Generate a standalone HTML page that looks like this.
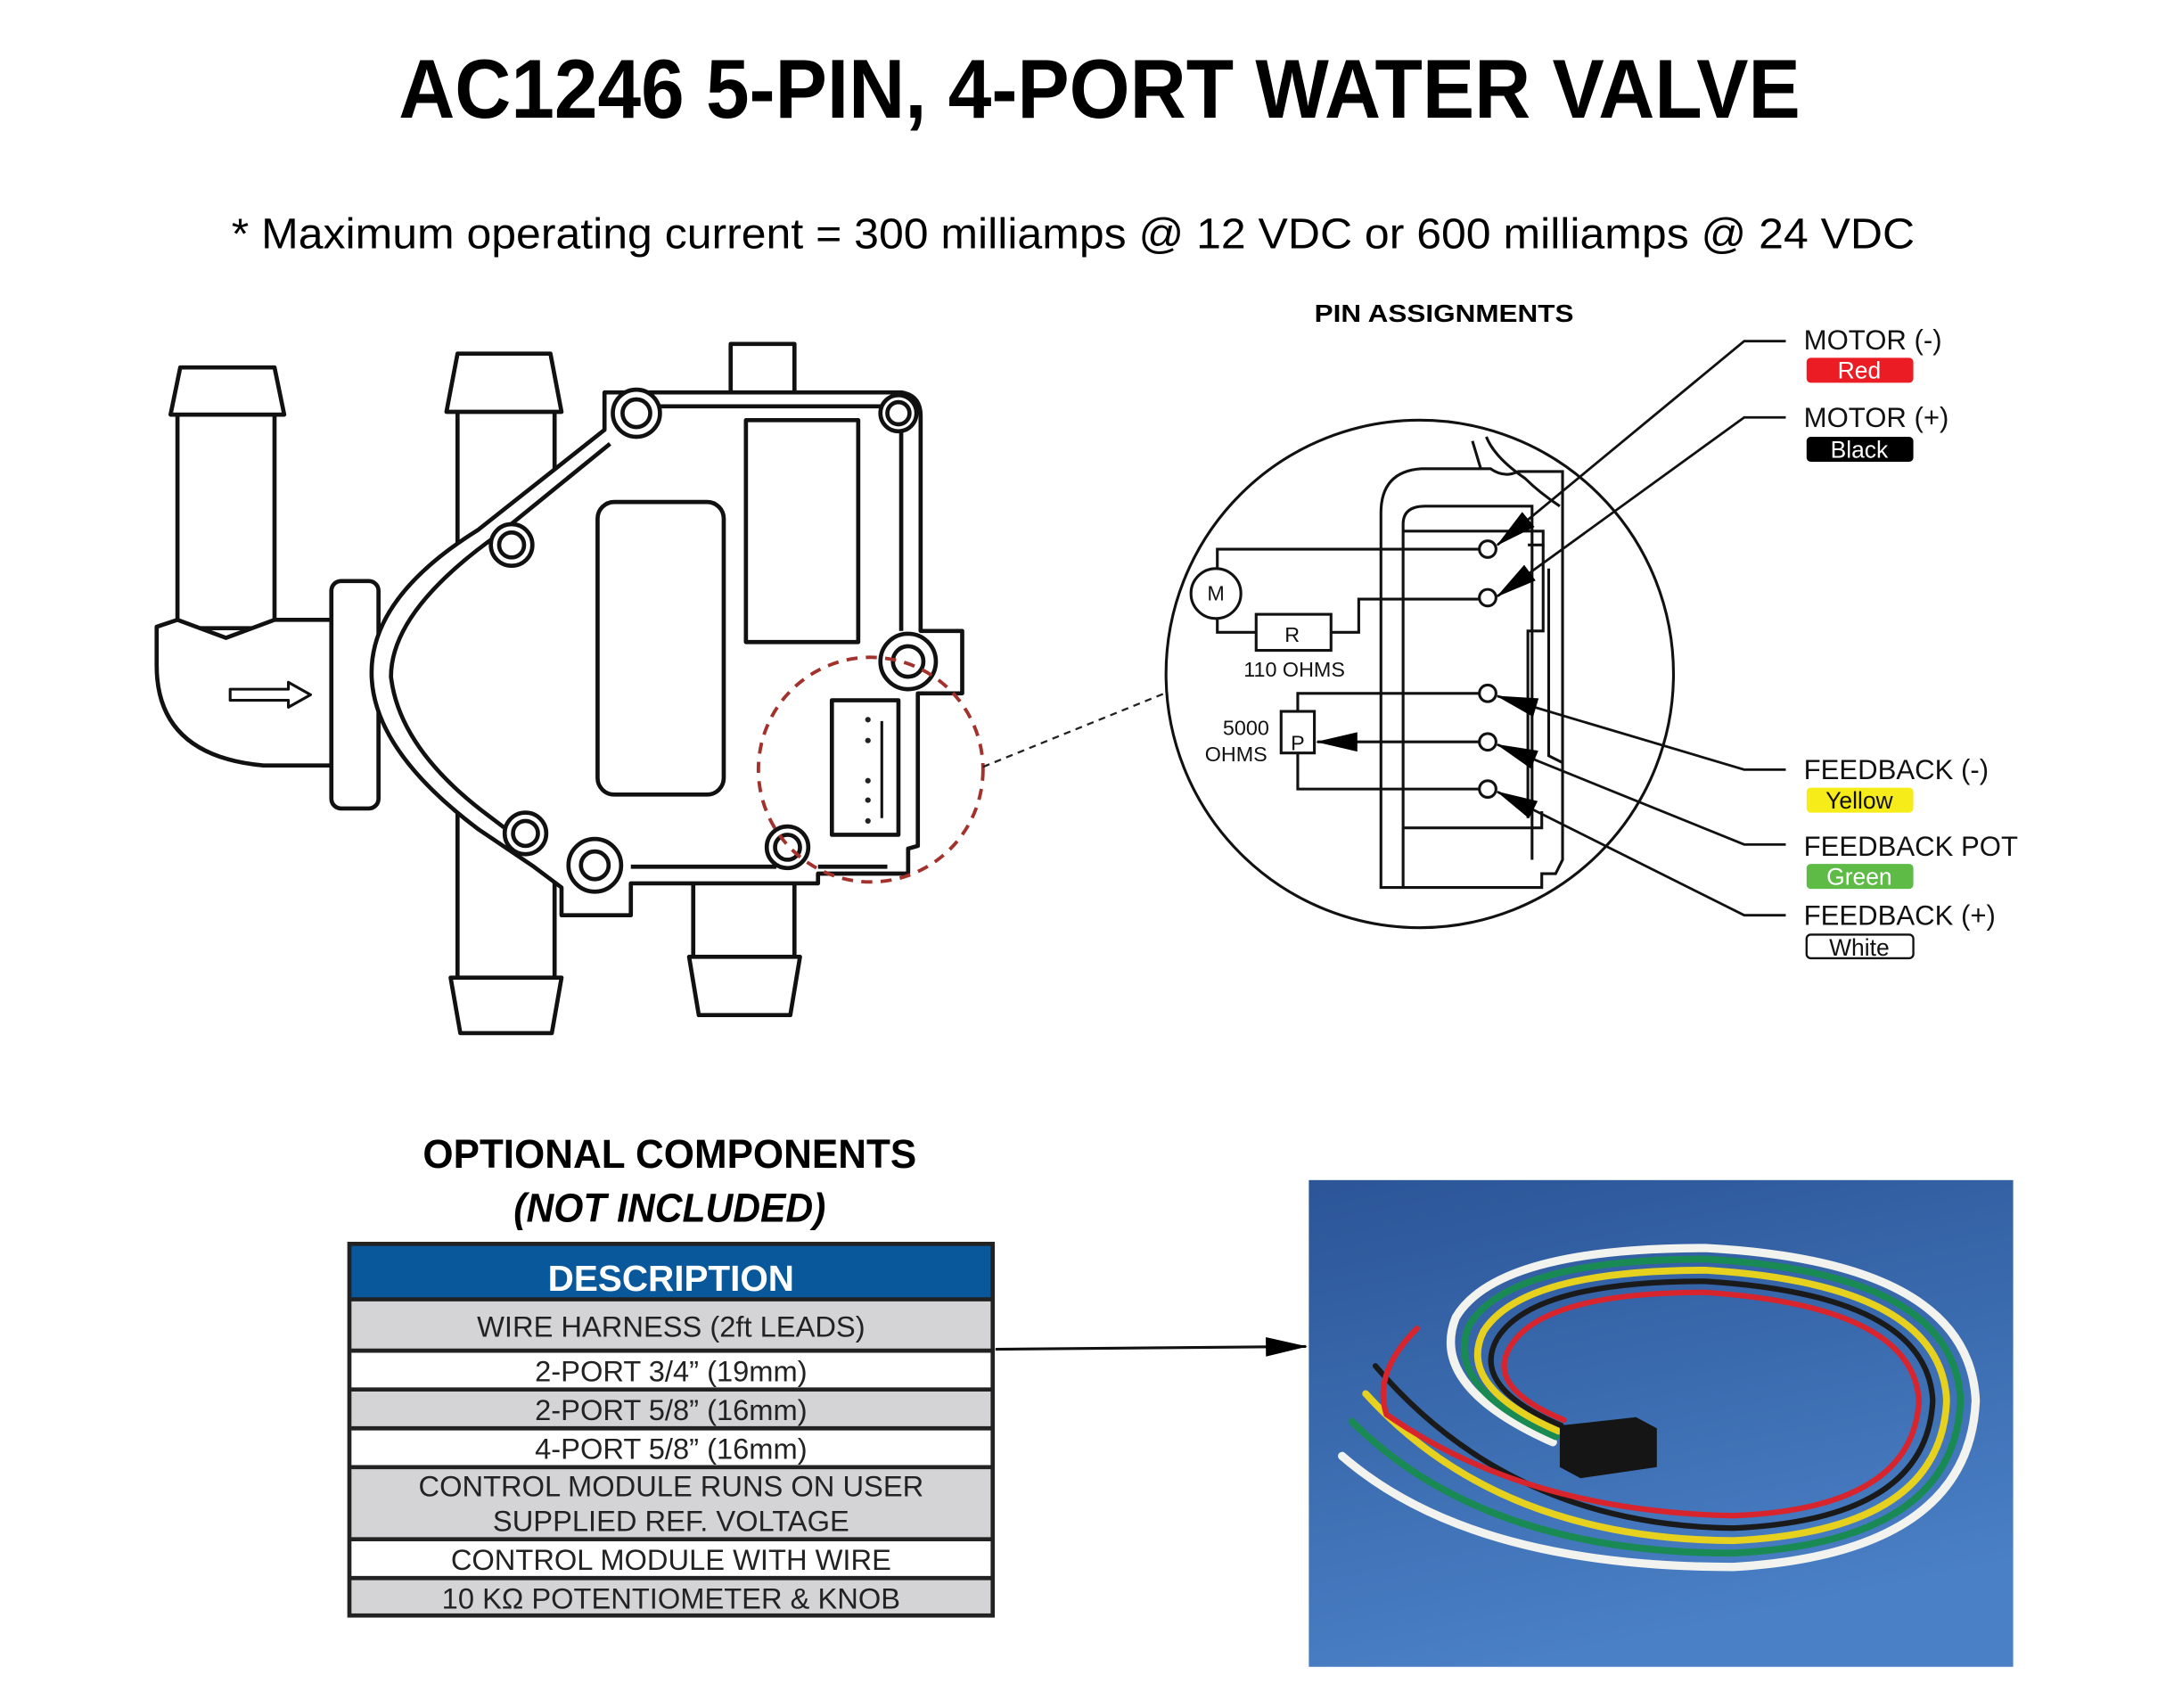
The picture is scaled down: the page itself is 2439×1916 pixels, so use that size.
<!DOCTYPE html>
<html><head><meta charset="utf-8"><style>html,body{margin:0;padding:0;background:#fff}svg{display:block}</style></head><body>
<svg width="2439" height="1916" viewBox="0 0 1568 1231.7" preserveAspectRatio="none" xmlns="http://www.w3.org/2000/svg" font-family="Liberation Sans, sans-serif">
<defs>
<linearGradient id="bg" x1="0" y1="0" x2="0.3" y2="1"><stop offset="0" stop-color="#2b5597"/><stop offset="1" stop-color="#4a80c6"/></linearGradient>
<marker id="bh" markerWidth="30" markerHeight="14" refX="29" refY="7" orient="auto" markerUnits="userSpaceOnUse"><path d="M0,0 L30,7 L0,14 z" fill="#000"/></marker>
</defs>
<text x="793" y="85" text-anchor="middle" font-weight="bold" font-size="60" textLength="1011" lengthAdjust="spacingAndGlyphs">AC1246 5-PIN, 4-PORT WATER VALVE</text>
<text x="167" y="179" font-size="31" textLength="1214" lengthAdjust="spacingAndGlyphs">* Maximum operating current = 300 milliamps @ 12 VDC or 600 milliamps @ 24 VDC</text>
<text x="948" y="232" font-weight="bold" font-size="18" textLength="187" lengthAdjust="spacingAndGlyphs">PIN ASSIGNMENTS</text>

<g fill="#fff" stroke="#111" stroke-width="3" stroke-linejoin="round">
<rect x="330" y="296" width="70" height="412"/>
<path d="M330,255 L397,255 L405,297 L322,297 Z"/>
<path d="M325,705 L405,705 L398,745 L332,745 Z"/>
<rect x="500" y="630" width="73" height="62"/>
<path d="M497,690 L577,690 L570,732 L504,732 Z"/>
<rect x="527" y="248" width="46" height="36"/>
<rect x="128" y="298" width="70" height="155"/>
<path d="M130,265 L198,265 L205,299 L123,299 Z"/>
<path d="M113,452 L128,447 L163,460 L198,447 L242,447 L242,552 L190,552 Q113,545 113,480 Z"/>
<path d="M166,497 L208,497 L208,492 L224,501 L208,510 L208,505 L166,505 Z" stroke-width="2"/>
<rect x="239" y="419" width="34" height="164" rx="7"/>
<path d="M436,310 L436,283 L650,283 Q664,285 664,300 L664,455 L694,455 L694,500 L662,500 L662,610 L655,612 L655,630 L590,630 L590,637 L455,637 L455,660 L405,660 L405,640 L385,625 L345,598 Q268,540 268,485 Q268,430 345,382 Z"/>
<path d="M440,320 L360,385 Q282,440 282,488 Q288,540 352,588 L385,613" fill="none"/>
<path d="M475,293 L635,293 Q650,300 650,310 L650,455" fill="none"/>
<path d="M455,625 L560,625 M590,625 L640,625" fill="none"/>
<rect x="538" y="303" width="81" height="160"/>
<rect x="431" y="362" width="91" height="211" rx="12"/>
<rect x="600" y="505" width="48" height="97"/>
<path d="M636,520 L636,590" fill="none" stroke-width="2"/>
<circle cx="459" cy="298" r="17"/><circle cx="459" cy="298" r="10"/>
<circle cx="648" cy="298" r="13"/><circle cx="648" cy="298" r="8"/>
<circle cx="369" cy="393" r="15"/><circle cx="369" cy="393" r="9"/>
<circle cx="379" cy="601" r="15"/><circle cx="379" cy="601" r="9"/>
<circle cx="429" cy="624" r="19"/><circle cx="429" cy="624" r="10"/>
<circle cx="568" cy="611" r="15"/><circle cx="568" cy="611" r="9"/>
<circle cx="655" cy="477" r="20"/><circle cx="655" cy="477" r="11"/>
</g>
<g fill="#222"><circle cx="626" cy="519" r="2"/><circle cx="626" cy="534" r="2"/><circle cx="626" cy="563" r="2"/><circle cx="626" cy="577" r="2"/><circle cx="626" cy="592" r="2"/></g>
<circle cx="628" cy="555" r="81" fill="none" stroke="#a3322c" stroke-width="2.5" stroke-dasharray="8,6"/>
<line x1="709" y1="553" x2="840" y2="500" stroke="#222" stroke-width="1.5" stroke-dasharray="5,4"/>

<g fill="none" stroke="#111" stroke-width="2">
<ellipse cx="1024" cy="486" rx="183" ry="183"/>
<path d="M996,640 L996,370 Q996,340 1025,338 L1075,338 Q1085,345 1095,340 L1127,340 L1127,620 L1122,630 L1112,630 L1112,640 Z"/>
<path d="M1012,640 L1012,378 Q1012,365 1028,365 L1105,365 L1105,620"/>
<path d="M1012,383 L1113,383 L1113,393 L1102,393 M1012,597 L1112,597 L1112,585"/>
<path d="M1113,393 L1113,455 L1102,455 L1102,590"/>
<path d="M1117,410 L1117,545 L1127,550"/>
<path d="M1062,318 L1068,338 M1072,315 Q1078,330 1100,345 Q1110,355 1125,365"/>
<path d="M1067,396 L878,396 L878,410 M878,446 L878,456 L906,456 M960,456 L980,456 L980,432 L1067,432"/>
<path d="M1067,500 L936,500 L936,513 M936,543 L936,569 L1067,569"/>
<circle cx="877" cy="428" r="18"/>
<rect x="906" y="443" width="54" height="26"/>
<rect x="924" y="513" width="24" height="30"/>
<line x1="1067" y1="535" x2="950" y2="535" marker-end="url(#bh)"/>
</g>
<g fill="#fff" stroke="#111" stroke-width="2">
<circle cx="1073" cy="396" r="6"/><circle cx="1073" cy="431" r="6"/><circle cx="1073" cy="500" r="6"/><circle cx="1073" cy="535" r="6"/><circle cx="1073" cy="569" r="6"/>
</g>
<g font-size="15" fill="#111">
<text x="877" y="433" text-anchor="middle">M</text>
<text x="932" y="463" text-anchor="middle">R</text>
<text x="936" y="541" text-anchor="middle">P</text>
<text x="897" y="488">110 OHMS</text>
<text x="882" y="530">5000</text>
<text x="869" y="549">OHMS</text>
</g>
<g fill="none" stroke="#111" stroke-width="1.8">
<path d="M1288,246 L1258,246 L1080,393" marker-end="url(#bh)"/>
<path d="M1288,301 L1258,301 L1080,430" marker-end="url(#bh)"/>
<path d="M1288,555 L1258,555 L1080,502" marker-end="url(#bh)"/>
<path d="M1288,609 L1258,609 L1080,537" marker-end="url(#bh)"/>
<path d="M1288,660 L1258,660 L1080,571" marker-end="url(#bh)"/>
</g>
<g font-size="20" fill="#111">
<text x="1301" y="252">MOTOR (-)</text>
<text x="1301" y="308">MOTOR (+)</text>
<text x="1301" y="562">FEEDBACK (-)</text>
<text x="1301" y="617">FEEDBACK POT</text>
<text x="1301" y="667">FEEDBACK (+)</text>
</g>
<rect x="1303" y="258" width="77" height="18" rx="3" fill="#ec1c24"/>
<rect x="1303" y="315" width="77" height="18" rx="3" fill="#000"/>
<rect x="1303" y="568" width="77" height="18" rx="3" fill="#f5ec1a"/>
<rect x="1303" y="623" width="77" height="18" rx="3" fill="#5dbb46"/>
<rect x="1303" y="674" width="77" height="17" rx="3" fill="#fff" stroke="#111" stroke-width="1.5"/>
<g font-size="17" text-anchor="middle">
<text x="1341" y="273" fill="#fff">Red</text>
<text x="1341" y="330" fill="#fff">Black</text>
<text x="1341" y="583" fill="#111">Yellow</text>
<text x="1341" y="638" fill="#fff">Green</text>
<text x="1341" y="689" fill="#111">White</text>
</g>

<text x="483" y="842" text-anchor="middle" font-weight="bold" font-size="29" textLength="356" lengthAdjust="spacingAndGlyphs">OPTIONAL COMPONENTS</text>
<text x="483" y="881" text-anchor="middle" font-weight="bold" font-style="italic" font-size="29" textLength="225" lengthAdjust="spacingAndGlyphs">(NOT INCLUDED)</text>
<rect x="252" y="897" width="464" height="40" fill="#08589b"/>
<rect x="252" y="937" width="464" height="37" fill="#d4d4d6"/>
<rect x="252" y="974" width="464" height="28" fill="#fff"/>
<rect x="252" y="1002" width="464" height="28" fill="#d4d4d6"/>
<rect x="252" y="1030" width="464" height="28" fill="#fff"/>
<rect x="252" y="1058" width="464" height="52" fill="#d4d4d6"/>
<rect x="252" y="1110" width="464" height="28" fill="#fff"/>
<rect x="252" y="1138" width="464" height="27" fill="#d4d4d6"/>
<g stroke="#222" stroke-width="3" fill="none">
<rect x="252" y="897" width="464" height="268"/>
<path d="M252,937 H716 M252,974 H716 M252,1002 H716 M252,1030 H716 M252,1058 H716 M252,1110 H716 M252,1138 H716"/>
</g>
<text x="484" y="931" text-anchor="middle" fill="#fff" font-weight="bold" font-size="26">DESCRIPTION</text>
<g font-size="21" fill="#222" text-anchor="middle">
<text x="484" y="964">WIRE HARNESS (2ft LEADS)</text>
<text x="484" y="996">2-PORT 3/4” (19mm)</text>
<text x="484" y="1024">2-PORT 5/8” (16mm)</text>
<text x="484" y="1052">4-PORT 5/8” (16mm)</text>
<text x="484" y="1079">CONTROL MODULE RUNS ON USER</text>
<text x="484" y="1104">SUPPLIED REF. VOLTAGE</text>
<text x="484" y="1132">CONTROL MODULE WITH WIRE</text>
<text x="484" y="1160">10 KΩ POTENTIOMETER &amp; KNOB</text>
</g>
<line x1="718" y1="973" x2="942" y2="971" stroke="#111" stroke-width="2" marker-end="url(#bh)"/>

<rect x="944" y="851" width="508" height="351" fill="url(#bg)"/>
<g fill="none" stroke-width="5" stroke-linecap="round">
<path d="M1120,1040 Q1030,1000 1050,950 Q1080,900 1230,900 Q1420,910 1425,1010 Q1420,1120 1250,1130 Q1060,1130 968,1050" stroke="#f2f2ee" stroke-width="6"/>
<path d="M1122,1036 Q1040,1000 1060,955 Q1090,908 1230,908 Q1410,918 1414,1010 Q1410,1112 1250,1120 Q1070,1120 975,1025" stroke="#1a8a55"/>
<path d="M1124,1032 Q1050,1000 1070,960 Q1098,916 1230,916 Q1400,926 1404,1010 Q1400,1104 1250,1111 Q1080,1110 985,1005" stroke="#e6d21e"/>
<path d="M1126,1028 Q1060,1000 1080,965 Q1106,924 1230,924 Q1390,934 1394,1010 Q1390,1096 1250,1102 Q1090,1100 992,985" stroke="#1a1a1a" stroke-width="4"/>
<path d="M1128,1024 Q1070,1000 1090,970 Q1114,932 1230,932 Q1380,942 1384,1010 Q1380,1088 1250,1093 Q1100,1090 1000,1020 Q990,990 1022,958" stroke="#d8242c" stroke-width="4"/>
</g>
<path d="M1125,1028 L1180,1022 L1195,1030 L1195,1058 L1140,1066 L1125,1058 Z" fill="#151515"/>
</svg>
</body></html>
